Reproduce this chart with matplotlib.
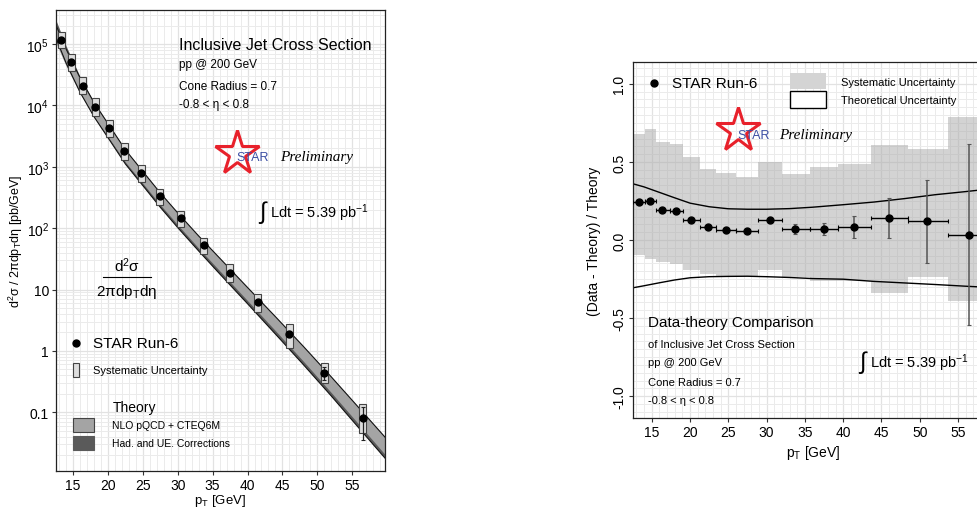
import numpy as np
import matplotlib
matplotlib.use('Agg')
import matplotlib.pyplot as plt
from matplotlib.ticker import MultipleLocator, LogLocator, FixedLocator, NullFormatter
from matplotlib.patches import Rectangle
from matplotlib.lines import Line2D

plt.rcParams['font.family'] = ['Liberation Sans', 'DejaVu Sans']
plt.rcParams['mathtext.fontset'] = 'custom'
plt.rcParams['mathtext.rm'] = 'Liberation Sans'
plt.rcParams['mathtext.it'] = 'Liberation Sans:italic'

# --- data ---
pt = [13.3, 14.75, 16.4, 18.15, 20.15, 22.3, 24.75, 27.45, 30.4, 33.75, 37.45, 41.45, 45.95, 51.0, 56.5]
bin_edges = [12.6, 14.1, 15.6, 17.35, 19.1, 21.25, 23.45, 26.05, 28.9, 31.95, 35.65, 39.35, 43.7, 48.5, 53.7, 59.5]
xsec = [1.17e5, 5.08e4, 2.09e4, 9.6e3, 4.27e3, 1.8e3, 795, 331, 145, 53, 18.9, 6.25, 1.9, 0.44, 0.079]
theory_at_pt = [9.39e4, 4.07e4, 1.756e4, 8.10e3, 3.80e3, 1.662e3, 749, 313, 128, 49.5, 17.7, 5.78, 1.67, 0.393, 0.0764]
ratio = [0.246, 0.248, 0.19, 0.185, 0.125, 0.083, 0.062, 0.057, 0.13, 0.07, 0.07, 0.081, 0.14, 0.119, 0.034]
stat_err = [0.008, 0.008, 0.008, 0.008, 0.008, 0.008, 0.008, 0.01, 0.015, 0.03, 0.04, 0.07, 0.13, 0.265, 0.58]
sys_hi = [0.68, 0.71, 0.63, 0.615, 0.533, 0.452, 0.427, 0.403, 0.497, 0.422, 0.469, 0.488, 0.611, 0.586, 0.788]
sys_lo = [-0.094, -0.119, -0.14, -0.153, -0.193, -0.217, -0.231, -0.231, -0.193, -0.236, -0.263, -0.263, -0.338, -0.236, -0.39]

th_pt = [12.55, 14, 16, 18, 20, 22.5, 25, 27.5, 30, 33, 36, 40, 44, 48, 52, 56, 59.7]
th_xsec = [1.5e5, 6.2e4, 2.15e4, 8.8e3, 4.1e3, 1.56e3, 700, 313, 148, 62, 26.9, 8.8, 2.9, 0.935, 0.292, 0.089, 0.0295]
th_up = [0.36, 0.34, 0.305, 0.27, 0.236, 0.213, 0.200, 0.197, 0.197, 0.201, 0.21, 0.226, 0.243, 0.265, 0.29, 0.31, 0.33]
th_dn = [-0.306, -0.293, -0.274, -0.256, -0.242, -0.235, -0.233, -0.232, -0.235, -0.24, -0.247, -0.251, -0.265, -0.275, -0.285, -0.296, -0.305]
had_ue_corr = [1.2, 1.12, 1.05, 1.0, 0.96, 0.93, 0.92, 0.91, 0.9, 0.9, 0.89, 0.89, 0.88, 0.88, 0.88, 0.87, 0.87]

W, H = 978, 510
fig = plt.figure(figsize=(W / 100, H / 100), dpi=100)


def fx(x):
    return x / W


def fy(y):
    return 1 - y / H


def ftext(x, y, s, **kw):
    kw.setdefault('va', 'center')
    kw.setdefault('ha', 'left')
    fig.text(fx(x), fy(y), s, **kw)


def fbox(x0, y0, x1, y1, **kw):
    fig.add_artist(Rectangle((fx(x0), fy(y1)), (x1 - x0) / W, (y1 - y0) / H,
                             transform=fig.transFigure, **kw))


def star_logo(cx, cy, tx, ptx, ty):
    fig.add_artist(Line2D([fx(cx)], [fy(cy)], marker='*', ms=33, mfc='none',
                          mec='#e8212b', mew=2.2, transform=fig.transFigure))
    ftext(tx, ty, 'STAR', color='#3b4ea3', fontsize=9)
    ftext(ptx, ty, 'Preliminary', family=['Liberation Serif', 'DejaVu Serif'],
          style='italic', fontsize=11)


def style_axes(ax, xpad, xsize):
    ax.set_axisbelow(True)
    ax.grid(which='minor', color='#ebebeb', lw=0.7)
    ax.grid(which='major', color='#e2e2e2', lw=0.9)
    ax.tick_params(which='major', length=3, width=0.8, color='#333333', labelsize=10, pad=2)
    ax.tick_params(which='minor', length=0)
    for s in ax.spines.values():
        s.set_color('#222222')
        s.set_linewidth(0.9)
    ax.set_xlim(12.55, 59.7)
    ax.xaxis.set_minor_locator(MultipleLocator(1))
    ax.set_xticks([15, 20, 25, 30, 35, 40, 45, 50, 55])
    ax.set_xlabel('p$_\\mathrm{T}$ [GeV]', fontsize=xsize, labelpad=xpad)


# ---------------- left panel: cross section ----------------
ax1 = fig.add_axes([fx(56), fy(472), (385 - 56) / W, (472 - 11) / H])
ax1.set_yscale('log')
style_axes(ax1, 0, 9.5)
ax1.set_ylim(0.011, 3.6e5)
ax1.yaxis.set_major_locator(FixedLocator([0.1, 1, 10, 100, 1e3, 1e4, 1e5]))
ax1.set_yticklabels(['0.1', '1', '10', '10$^{2}$', '10$^{3}$', '10$^{4}$', '10$^{5}$'])
ax1.yaxis.set_minor_locator(LogLocator(base=10, subs=np.arange(2, 10), numticks=30))
ax1.yaxis.set_minor_formatter(NullFormatter())
ax1.set_ylabel('d$^{2}$σ / 2πdp$_\\mathrm{T}$dη [pb/GeV]', fontsize=9)
ax1.yaxis.set_label_coords((25 - 56) / 329, 0.5)

th = np.array(th_xsec)
nlo_hi = th * (1 + np.array(th_up))
nlo_lo = th * (1 + np.array(th_dn))
corr = np.array(had_ue_corr)
ax1.fill_between(th_pt, nlo_lo * corr, nlo_hi * corr, color='#5a5a5a', lw=0, zorder=1)
ax1.fill_between(th_pt, nlo_lo, nlo_hi, color='#a4a4a4', lw=0, zorder=2)
ax1.plot(th_pt, nlo_hi, color='#111111', lw=0.8, zorder=2)
ax1.plot(th_pt, nlo_lo * corr, color='#111111', lw=0.8, zorder=2)

tc = np.array(theory_at_pt)
box_top = tc * (1 + np.array(sys_hi))
box_bot = tc * (1 + np.array(sys_lo))
ax1.bar(pt, box_top - box_bot, bottom=box_bot, width=1.0, color='#dedede',
        edgecolor='#444444', lw=0.8, zorder=3)
ax1.errorbar(pt, xsec, yerr=tc * np.array(stat_err), fmt='none', ecolor='#222222',
             elinewidth=0.9, capsize=1.5, capthick=0.8, zorder=4)
ax1.plot(pt, xsec, 'o', color='black', ms=5, zorder=5)

ftext(179, 45, 'Inclusive Jet Cross Section', fontsize=11.5)
ftext(179, 65, 'pp @ 200 GeV', fontsize=8.5)
ftext(179, 87, 'Cone Radius = 0.7', fontsize=8.5)
ftext(179, 105, '-0.8 < η < 0.8', fontsize=8.5)
star_logo(237, 154, 236, 280, 158)
ftext(259, 213, '∫', fontsize=17)
ftext(270, 213, 'Ldt = 5.39 pb$^{-1}$', fontsize=10.5)

ftext(127, 266, 'd$^{2}$σ', fontsize=11, ha='center')
fig.add_artist(Line2D([fx(103), fx(151)], [fy(278), fy(278)], color='black', lw=0.8,
                      transform=fig.transFigure))
ftext(127, 292, '2πdp$_\\mathrm{T}$dη', fontsize=11, ha='center')

fig.add_artist(Line2D([fx(76)], [fy(344)], marker='o', ms=5, color='black',
                      transform=fig.transFigure))
ftext(93, 344, 'STAR Run-6', fontsize=11)
fbox(73, 364, 79, 378, facecolor='#dedede', edgecolor='#444444', lw=0.8)
ftext(93, 371, 'Systematic Uncertainty', fontsize=8)
ftext(113, 408, 'Theory', fontsize=10)
fbox(73, 419, 94, 433, facecolor='#a4a4a4', edgecolor='#444444', lw=0.8)
ftext(112, 426, 'NLO pQCD + CTEQ6M', fontsize=7.5)
fbox(73, 437, 94, 451, facecolor='#5a5a5a', edgecolor='#5a5a5a', lw=0.8)
ftext(112, 444, 'Had. and UE. Corrections', fontsize=7.5)

# ---------------- right panel: data / theory ----------------
ax2 = fig.add_axes([fx(633), fy(419), 361 / W, (419 - 63) / H])
style_axes(ax2, 3, 10)
ax2.set_ylim(-1.14, 1.14)
ax2.set_yticks([-1.0, -0.5, 0.0, 0.5, 1.0])
ax2.set_yticklabels(['-1.0', '-0.5', '0.0', '0.5', '1.0'], rotation=90, va='center')
ax2.yaxis.set_minor_locator(MultipleLocator(0.05))
ax2.set_ylabel('(Data - Theory) / Theory', fontsize=10)
ax2.yaxis.set_label_coords((601 - 633) / 361, 0.5)

ax2.stairs(sys_hi, bin_edges, baseline=sys_lo, fill=True, color='#a9a9a9',
           alpha=0.5, lw=0, zorder=1)
ax2.plot(th_pt, th_up, color='black', lw=1, zorder=2)
ax2.plot(th_pt, th_dn, color='black', lw=1, zorder=2)

p = np.array(pt)
e = np.array(bin_edges)
xerr = [p - e[:-1], e[1:] - p]
ax2.errorbar(pt, ratio, xerr=xerr, fmt='none', ecolor='black', elinewidth=1,
             capsize=1.2, capthick=0.8, zorder=3)
ax2.errorbar(pt, ratio, yerr=stat_err, fmt='none', ecolor='#555555', elinewidth=1.1,
             capsize=1.5, capthick=0.8, zorder=3)
ax2.plot(pt, ratio, 'o', color='black', ms=5, zorder=4)

fig.add_artist(Line2D([fx(654)], [fy(84)], marker='o', ms=5, color='black',
                      transform=fig.transFigure))
ftext(672, 84, 'STAR Run-6', fontsize=11)
fbox(790, 74, 826, 90, facecolor='#d4d4d4', edgecolor='none')
ftext(841, 83, 'Systematic Uncertainty', fontsize=8)
fbox(790, 92, 826, 109, facecolor='white', edgecolor='black', lw=1)
ftext(841, 101, 'Theoretical Uncertainty', fontsize=8)
star_logo(738, 131, 737, 779, 136)

ftext(648, 323, 'Data-theory Comparison', fontsize=11)
ftext(648, 345, 'of Inclusive Jet Cross Section', fontsize=8)
ftext(648, 363, 'pp @ 200 GeV', fontsize=8)
ftext(648, 383, 'Cone Radius = 0.7', fontsize=8)
ftext(648, 401, '-0.8 < η < 0.8', fontsize=8)
ftext(859, 363, '∫', fontsize=17)
ftext(870, 363, 'Ldt = 5.39 pb$^{-1}$', fontsize=10.5)

fig.savefig('out.png', dpi=100)
